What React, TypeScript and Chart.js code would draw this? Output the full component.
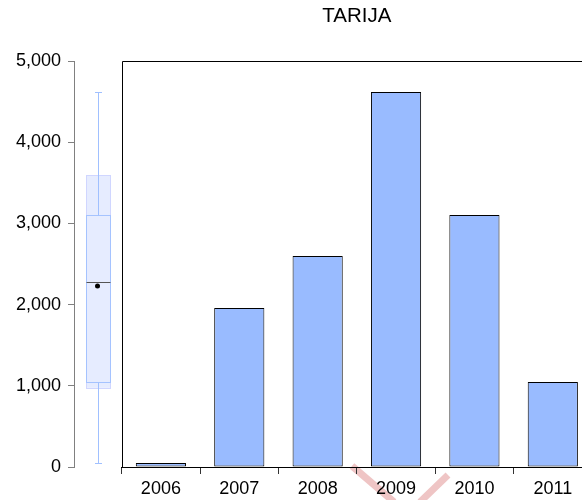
import React, { useEffect, useRef } from "react";
import { Chart, registerables } from "chart.js";

Chart.register(...registerables);

const categories = ["2006", "2007", "2008", "2009", "2010", "2011"];
const values = [50, 1958, 2599, 4618, 3103, 1047];
const yTicks = [0, 1000, 2000, 3000, 4000, 5000];
const title = "TARIJA";

// box plot summary
const whiskerLow = 50;
const whiskerHigh = 4618;
const outerLow = 975;
const outerHigh = 3596;
const hingeLow = 1047;
const hingeHigh = 3103;
const medianValue = 2278;
const meanValue = 2229;

const FONT = "'Liberation Sans', Arial, sans-serif";

const decoPlugin = {
  id: "deco",
  beforeDraw(chart: any) {
    const ctx = chart.ctx;
    ctx.save();
    ctx.strokeStyle = "rgba(225,150,150,0.55)";
    ctx.lineWidth = 7;
    ctx.beginPath();
    ctx.moveTo(352, 466);
    ctx.lineTo(394, 502);
    ctx.moveTo(448, 475);
    ctx.lineTo(420, 502);
    ctx.stroke();
    ctx.restore();
  },
  afterDraw(chart: any) {
    const ctx = chart.ctx;
    const area = chart.chartArea;
    const y = chart.scales.y;
    const gap = chart.scales.yGap;
    ctx.save();
    // frame
    ctx.strokeStyle = "#000";
    ctx.lineWidth = 1;
    ctx.beginPath();
    ctx.moveTo(Math.round(area.left) + 0.5, area.bottom);
    ctx.lineTo(Math.round(area.left) + 0.5, Math.round(area.top) + 0.5);
    ctx.lineTo(area.right, Math.round(area.top) + 0.5);
    ctx.stroke();

    // box plot
    const cx = Math.round((gap.left + gap.right) / 2) + 0.5;
    const half = 12;
    const oTop = y.getPixelForValue(outerHigh);
    const oBot = y.getPixelForValue(outerLow);
    ctx.fillStyle = "rgb(230,236,255)";
    ctx.fillRect(cx - half, oTop, half * 2, oBot - oTop);
    ctx.strokeStyle = "rgb(208,214,255)";
    ctx.strokeRect(cx - half, Math.round(oTop) + 0.5, half * 2, Math.round(oBot) - Math.round(oTop));

    const hTop = y.getPixelForValue(hingeHigh);
    const hBot = y.getPixelForValue(hingeLow);
    ctx.strokeStyle = "rgb(165,195,255)";
    ctx.strokeRect(cx - half, Math.round(hTop) + 0.5, half * 2, Math.round(hBot) - Math.round(hTop));

    // whiskers
    const wTop = Math.round(y.getPixelForValue(whiskerHigh)) + 0.5;
    const wBot = Math.round(y.getPixelForValue(whiskerLow)) + 0.5;
    ctx.strokeStyle = "rgb(160,192,255)";
    ctx.beginPath();
    ctx.moveTo(cx, wTop);
    ctx.lineTo(cx, Math.round(hTop) + 0.5);
    ctx.moveTo(cx, Math.round(hBot) + 0.5);
    ctx.lineTo(cx, wBot);
    ctx.moveTo(cx - 3.5, wTop);
    ctx.lineTo(cx + 3.5, wTop);
    ctx.moveTo(cx - 3.5, wBot);
    ctx.lineTo(cx + 3.5, wBot);
    ctx.stroke();

    // median
    const m = Math.round(y.getPixelForValue(medianValue)) + 0.5;
    ctx.strokeStyle = "#555";
    ctx.beginPath();
    ctx.moveTo(cx - half, m);
    ctx.lineTo(cx + half, m);
    ctx.stroke();

    // mean
    ctx.fillStyle = "#000";
    ctx.beginPath();
    ctx.arc(cx - 1, y.getPixelForValue(meanValue), 2.5, 0, Math.PI * 2);
    ctx.fill();
    ctx.restore();
  },
};

export default function App() {
  const ref = useRef<HTMLCanvasElement>(null);
  useEffect(() => {
    document.body.style.overflow = "hidden";
    const chart = new Chart(ref.current!, {
      type: "bar",
      data: {
        labels: categories,
        datasets: [
          {
            data: values,
            backgroundColor: "rgb(153,187,255)",
            borderColor: "#000",
            borderWidth: 1,
            borderSkipped: false,
            barPercentage: 0.64,
            categoryPercentage: 1,
          },
        ],
      },
      options: {
        animation: false,
        responsive: false,
        layout: { padding: { left: 0, right: 8, top: 0, bottom: 0 } },
        plugins: {
          legend: { display: false },
          tooltip: { enabled: false },
          title: {
            display: true,
            text: title,
            fullSize: false,
            color: "#000",
            font: { family: FONT, size: 20.5, weight: "normal" },
            padding: { top: 4.4, bottom: 32 },
          },
        },
        scales: {
          x: {
            type: "category",
            position: "bottom",
            grid: { display: true, drawOnChartArea: false, offset: true, tickLength: 7, color: "#333" },
            border: { display: true, color: "#000", width: 1 },
            ticks: { color: "#000", font: { family: FONT, size: 18 }, padding: 4, maxRotation: 0, autoSkip: false },
            afterFit: (s: any) => {
              s.height = 33;
            },
          },
          y: {
            type: "linear",
            position: "left",
            weight: 1,
            min: 0,
            max: 5000,
            afterBuildTicks: (s: any) => {
              s.ticks = yTicks.map((v) => ({ value: v }));
            },
            grid: { display: true, drawOnChartArea: false, tickLength: 6, color: "#808080" },
            border: { display: true, color: "#808080" },
            ticks: {
              color: "#000",
              font: { family: FONT, size: 18 },
              padding: 7,
              callback: (v: any) => Number(v).toLocaleString("en-US"),
            },
            afterFit: (s: any) => {
              s.width = 74;
            },
          },
          yGap: {
            type: "linear",
            position: "left",
            weight: 0,
            min: 0,
            max: 5000,
            grid: { display: false },
            border: { display: false },
            ticks: { display: false },
            afterFit: (s: any) => {
              s.width = 47.7;
            },
          },
        },
      },
      plugins: [decoPlugin],
    } as any);
    return () => chart.destroy();
  }, []);
  return (
    <div style={{ position: "absolute", left: 0, top: 0, width: 600, height: 500, background: "#fff" }}>
      <canvas ref={ref} width={600} height={500} style={{ display: "block" }} />
    </div>
  );
}
